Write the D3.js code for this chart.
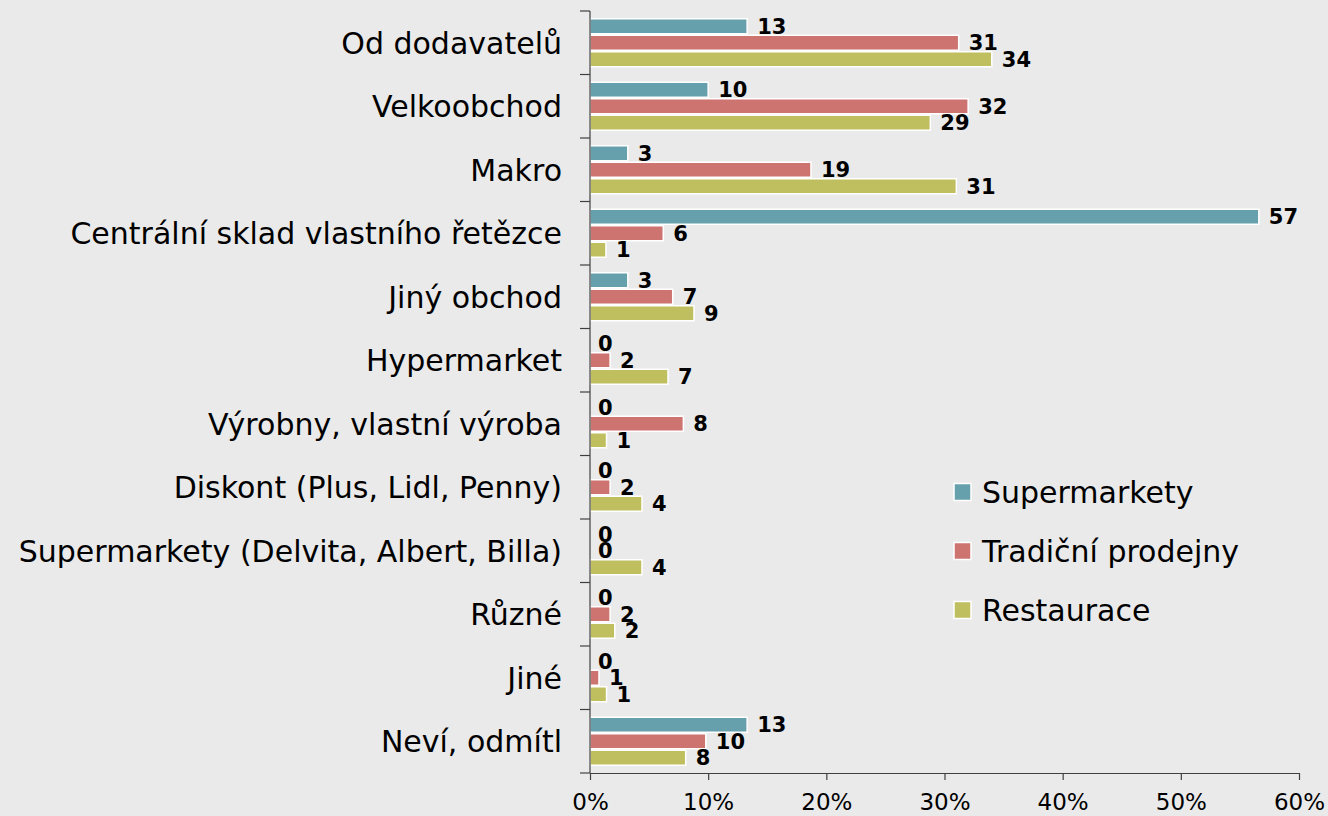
<!DOCTYPE html>
<html><head><meta charset="utf-8">
<script src="https://cdn.jsdelivr.net/npm/d3@7"></script>
<style>
html,body{margin:0;padding:0;background:#eaeaea;}
svg{display:block;font-family:"DejaVu Sans",Verdana,sans-serif;}
</style></head>
<body>
<svg id="chart" width="1328" height="816"></svg>
<script>
const categories = ["Od dodavatelů","Velkoobchod","Makro","Centrální sklad vlastního řetězce","Jiný obchod","Hypermarket","Výrobny, vlastní výroba","Diskont (Plus, Lidl, Penny)","Supermarkety (Delvita, Albert, Billa)","Různé","Jiné","Neví, odmítl"];
const seriesNames = ["Supermarkety","Tradiční prodejny","Restaurace"];
const supermarkety = [13.3,10.0,3.2,56.6,3.2,0,0,0,0,0,0,13.3];
const tradicni = [31.2,32.0,18.7,6.2,7.0,1.7,7.9,1.7,0,1.7,0.76,9.8];
const restaurace = [34.0,28.8,31.0,1.35,8.8,6.6,1.4,4.4,4.4,2.1,1.4,8.1];
const labelsS = [13,10,3,57,3,0,0,0,0,0,0,13];
const labelsT = [31,32,19,6,7,2,8,2,0,2,1,10];
const labelsR = [34,29,31,1,9,7,1,4,4,2,1,8];
const xTicks = [0,10,20,30,40,50,60];
const colors = ["#67a0ad","#cd7370","#c0bf60"];

const seriesVals = [supermarkety, tradicni, restaurace];
const seriesLabels = [labelsS, labelsT, labelsR];

const svg = d3.select("#chart");
const mLeft = 590, mRight = 1299, mTop = 11, mBottom = 773;

const x = d3.scaleLinear().domain([0,60]).range([mLeft,mRight]);
const y = d3.scaleBand().domain(categories).range([mTop,mBottom]).padding(0);
const inner = d3.scaleBand().domain(seriesNames).range([7, y.bandwidth()-7]).padding(0);

const g = svg.append("g");
categories.forEach((c,ci)=>{
  seriesNames.forEach((s,si)=>{
    const v = seriesVals[si][ci];
    const y0 = y(c)+inner(s);
    if (v>0){
      g.append("rect").attr("x",x(0)).attr("y",y0+0.75)
        .attr("width",x(v)-x(0)).attr("height",inner.bandwidth()-1.5)
        .attr("fill",colors[si]).attr("stroke","#ffffff").attr("stroke-width",1.5);
    }
    g.append("text").attr("x",x(v)+(v>0?10:8)).attr("y",y0+inner.bandwidth()/2)
      .attr("dy","0.36em").attr("font-size",21).attr("font-weight","bold").attr("fill","#000")
      .text(seriesLabels[si][ci]);
  });
});

// y axis
const yAxis = svg.append("g");
yAxis.append("line").attr("x1",mLeft).attr("x2",mLeft).attr("y1",mTop).attr("y2",mBottom).attr("stroke","#404040").attr("stroke-width",1.2);
const bounds = categories.map(c=>y(c)).concat([mBottom]);
bounds.forEach(b=>{
  yAxis.append("line").attr("x1",mLeft-10).attr("x2",mLeft).attr("y1",b).attr("y2",b).attr("stroke","#404040").attr("stroke-width",1.2);
});
categories.forEach(c=>{
  yAxis.append("text").attr("x",mLeft-28).attr("y",y(c)+y.bandwidth()/2).attr("dy","0.36em")
    .attr("text-anchor","end").attr("font-size",30).attr("fill","#000").text(c);
});

// x axis
const xAxis = svg.append("g").attr("transform",`translate(0,${mBottom})`)
  .call(d3.axisBottom(x).tickValues(xTicks).tickFormat(d=>d+"%").tickSize(7).tickSizeOuter(0));
xAxis.select(".domain").attr("stroke","#404040").attr("stroke-width",1.2);
xAxis.selectAll(".tick line").attr("stroke","#404040").attr("stroke-width",1.2);
xAxis.selectAll("text").attr("font-size",23).attr("fill","#000").attr("font-family","DejaVu Sans, Verdana, sans-serif").attr("y",37).attr("dy",0);

// legend
const legend = svg.append("g");
const legY = [492,551,610];
seriesNames.forEach((s,i)=>{
  legend.append("rect").attr("x",954).attr("y",legY[i]-8.5).attr("width",17).attr("height",17)
    .attr("fill",colors[i]).attr("stroke","#fff").attr("stroke-width",1.5);
  legend.append("text").attr("x",982).attr("y",legY[i]).attr("dy","0.36em")
    .attr("font-size",30).attr("fill","#000").text(s);
});
</script>
</body></html>
